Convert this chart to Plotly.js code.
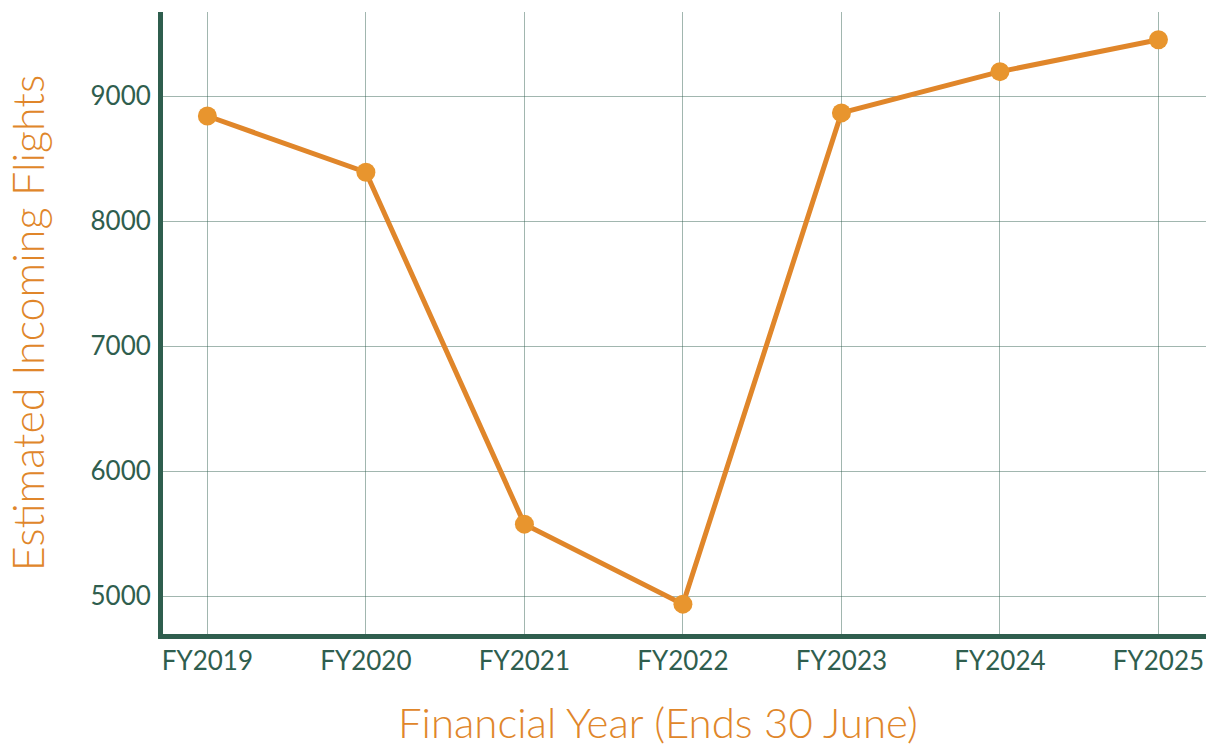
<!DOCTYPE html>
<html>
<head>
<meta charset="utf-8">
<script src="https://cdn.plot.ly/plotly-3.0.1.min.js"></script>
<style>html,body{margin:0;padding:0;background:#fff;}#chart{width:1206px;height:749px;}</style>
</head>
<body>
<div id="chart"></div>
<script>
const years = ["FY2019","FY2020","FY2021","FY2022","FY2023","FY2024","FY2025"];
const flights = [8840, 8390, 5575, 4935, 8865, 9195, 9450];
const yTicks = [5000, 6000, 7000, 8000, 9000];

const green = "#2f5e4e";
const orange = "#e0862a";

const trace = {
  x: years,
  y: flights,
  type: "scatter",
  mode: "lines+markers",
  line: {color: orange, width: 5},
  marker: {color: "#e8952e", size: 19},
  cliponaxis: false,
  hoverinfo: "x+y"
};

const layout = {
  width: 1206,
  height: 749,
  margin: {l: 163, r: 0, t: 12, b: 115},
  paper_bgcolor: "#fff",
  plot_bgcolor: "#fff",
  font: {family: "Lato, sans-serif", color: green},
  showlegend: false,
  xaxis: {
    type: "category",
    range: [-0.28, 6.30],
    showgrid: true,
    gridcolor: "rgba(47,94,78,0.45)",
    gridwidth: 1,
    showline: true,
    linecolor: green,
    linewidth: 5,
    ticks: "",
    tickfont: {size: 26, color: green},
    zeroline: false,
    title: {text: ""}
  },
  yaxis: {
    range: [4696, 9672],
    tickvals: yTicks,
    ticktext: yTicks.map(String),
    showgrid: true,
    gridcolor: "rgba(47,94,78,0.45)",
    gridwidth: 1,
    showline: true,
    linecolor: green,
    linewidth: 5,
    ticks: "",
    ticklabelstandoff: 2,
    tickfont: {size: 26, color: green},
    zeroline: false,
    title: {text: "Estimated Incoming Flights", font: {size: 43, color: orange, weight: 300}, standoff: 34}
  },
  annotations: [{
    text: "Financial Year (Ends 30 June)",
    xref: "paper", yref: "paper",
    x: (658 - 163) / 1043, y: 0,
    xanchor: "center", yanchor: "middle",
    yshift: -88,
    showarrow: false,
    font: {size: 42, color: orange, family: "Lato, sans-serif", weight: 300}
  }]
};

Plotly.newPlot("chart", [trace], layout, {displayModeBar: false, staticPlot: true});
</script>
</body>
</html>
